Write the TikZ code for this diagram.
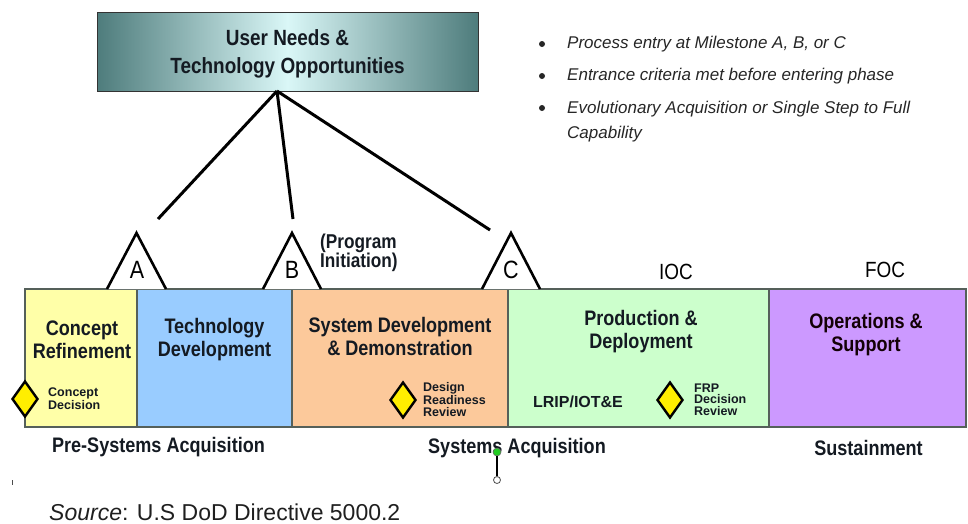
\documentclass[tikz,border=0pt]{standalone}
\usepackage{fontspec}
\setmainfont{Liberation Sans}
\newfontfamily\cnd[FakeStretch=0.86]{Liberation Sans}
\usetikzlibrary{shapes.geometric}

\definecolor{phyellow}{HTML}{FFFFA8}
\definecolor{phblue}{HTML}{99CCFF}
\definecolor{phorange}{HTML}{FCC99B}
\definecolor{phgreen}{HTML}{CCFFCC}
\definecolor{phpurple}{HTML}{CC99FF}
\definecolor{tealdark}{HTML}{4E7C7C}
\definecolor{teallight}{HTML}{DAF7F7}
\definecolor{barline}{HTML}{55605A}
\definecolor{msyellow}{HTML}{FFEE00}
\definecolor{inkdark}{HTML}{141A22}
\definecolor{handlegreen}{HTML}{22CC22}

\tikzset{
  phasebar/.style={draw=barline, line width=1.3pt},
  phasetext/.style={font=\cnd\bfseries\fontsize{21}{23}\selectfont, align=center, text=inkdark, inner sep=0pt},
  stagetext/.style={font=\cnd\bfseries\fontsize{21}{23}\selectfont, text=inkdark, inner sep=0pt},
  mstri/.style={draw=black, line width=2.6pt, fill=white, line join=miter},
  msletter/.style={font=\cnd\fontsize{25}{25}\selectfont, inner sep=0pt},
  capletter/.style={font=\cnd\fontsize{22}{22}\selectfont, inner sep=0pt},
  feeder/.style={draw=black, line width=3pt},
  decision/.style={diamond, draw=black, line width=2.4pt, fill=msyellow, minimum width=26pt, minimum height=36pt, inner sep=0pt},
  smalltext/.style={font=\bfseries\fontsize{12.5}{11.5}\selectfont, align=left, anchor=west, text=inkdark, inner sep=0pt},
  bullettext/.style={font=\itshape\fontsize{17}{17}\selectfont, text=black!85, anchor=base west, inner sep=0pt},
  bulletdot/.style={circle, fill=black!85, inner sep=0pt, minimum size=6pt},
}

\begin{document}
\begin{tikzpicture}[x=1pt, y=-1pt]
\useasboundingbox (0,0) rectangle (968,523);

% needs box with its teal shading
\shade[left color=tealdark, right color=tealdark, middle color=teallight] (97,12) rectangle (478,91);
\draw[black!80, line width=1pt] (97,12) rectangle (478,91);
\node[font=\cnd\bfseries\fontsize{22}{28}\selectfont, align=center, text=inkdark, inner sep=0pt] (needs) at (287.5,54) {User Needs \&\\Technology Opportunities};
\coordinate (needsfoot) at (277,91);

% bullet list
\node[bulletdot] (d1) at (542,44) {};
\node[bulletdot] (d2) at (542,76) {};
\node[bulletdot] (d3) at (542,108) {};
\node[bullettext] (b1) at (567,48) {Process entry at Milestone A, B, or C};
\node[bullettext] (b2) at (567,80) {Entrance criteria met before entering phase};
\node[bullettext] (b3) at (567,113) {Evolutionary Acquisition or Single Step to Full};
\node[bullettext] (b4) at (567,138) {Capability};

% phase bar
\fill[phyellow] (25,289) rectangle (137,427);
\fill[phblue] (137,289) rectangle (292,427);
\fill[phorange] (292,289) rectangle (508,427);
\fill[phgreen] (508,289) rectangle (769,427);
\fill[phpurple] (769,289) rectangle (966,427);
\draw[phasebar] (25,289) rectangle (966,427);
\foreach \xx in {137,292,508,769} \draw[phasebar] (\xx,289) -- (\xx,427);

% milestone triangles
\draw[mstri] (107,289) -- (136.5,233) -- (166,289);
\draw[mstri] (263,289) -- (292,233) -- (321,289);
\draw[mstri] (482,289) -- (511,233) -- (540,289);
\node[msletter] (msA) at (137,270) {A};
\node[msletter] (msB) at (292,270) {B};
\node[msletter] (msC) at (511,270) {C};

% feeders from the needs box
\coordinate (toA) at (158,219);
\coordinate (toB) at (293,219);
\coordinate (toC) at (490,230);
\draw[feeder] (needsfoot) -- (toA);
\draw[feeder] (needsfoot) -- (toB);
\draw[feeder] (needsfoot) -- (toC);

\node[font=\cnd\bfseries\fontsize{20}{19.5}\selectfont, align=left, anchor=west, text=inkdark, inner sep=0pt] (pgm) at (320,253) {(Program\\Initiation)};
\node[capletter] (ioc) at (676,272) {IOC};
\node[capletter] (foc) at (885,270) {FOC};

% phase names
\node[phasetext] (ph1) at (82,339.5) {Concept\\Refinement};
\node[phasetext] (ph2) at (214.5,339.5) {Technology\\Development};
\node[phasetext] (ph3) at (400,336.5) {System Development\\\& Demonstration};
\node[phasetext] (ph4) at (641,332) {Production \&\\Deployment};
\node[phasetext, text=black!90!purple] (ph5) at (866,335) {Operations \&\\Support};

% decision points
\node[decision] (cd) at (25,399) {};
\node[smalltext] (cdt) at (48,399) {Concept\\Decision};
\node[decision] (drr) at (403,400) {};
\node[smalltext] (drrt) at (423,399.5) {Design\\Readiness\\Review};
\node[decision] (frp) at (670,400) {};
\node[smalltext] (frpt) at (694,399.5) {FRP\\Decision\\Review};
\node[font=\bfseries\fontsize{16}{16}\selectfont, text=inkdark, inner sep=0pt] (lrip) at (578,402) {LRIP/IOT\&E};

% stage names under the bar
\node[stagetext] (st1) at (158.5,447) {Pre-Systems Acquisition};
\node[stagetext] (st2) at (517,448) {Systems Acquisition};
\node[stagetext] (st3) at (868.5,448) {Sustainment};

% handle over the middle stage name
\node[circle, draw=black!70, fill=white, line width=0.8pt, inner sep=0pt, minimum size=7pt] (hlow) at (497,480) {};
\node[circle, draw=black!60, fill=handlegreen, line width=0.6pt, inner sep=0pt, minimum size=8pt] (hup) at (497,452) {};
\draw[black, line width=1.2pt] (hup) -- (hlow);

% stray mark and source line
\draw[black!70, line width=1.2pt] (12.5,480) -- (12.5,485);
\node[font=\fontsize{23}{23}\selectfont, text=black!88, anchor=base west, inner sep=0pt] (src) at (49,520) {\textit{Source}: U.S DoD Directive 5000.2};
\end{tikzpicture}
\end{document}
